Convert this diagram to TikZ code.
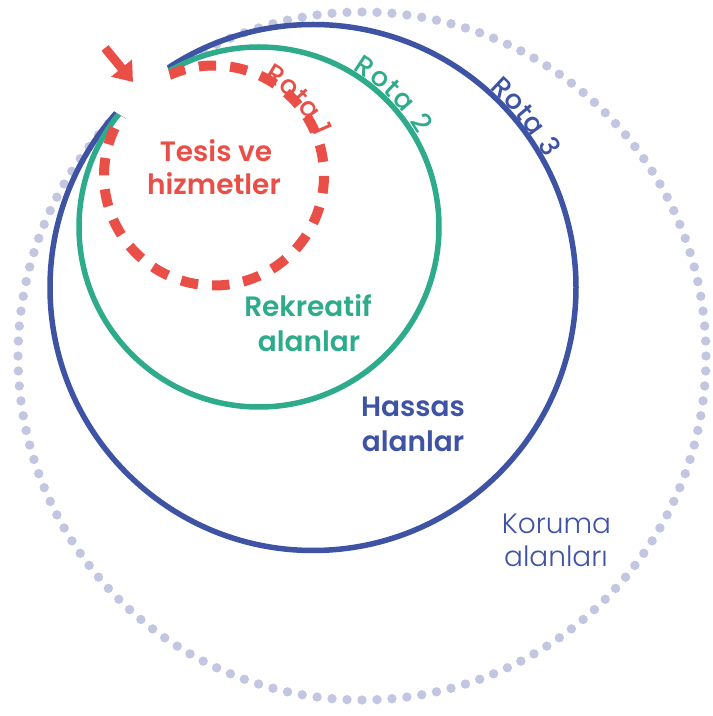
\documentclass[tikz,border=0pt]{standalone}
\usepackage{fontspec}
\setmainfont{Poppins}
\newfontfamily\medfont{Poppins Medium}
\newfontfamily\semifont{Poppins SemiBold}
\newfontfamily\lightfont{Poppins Light}
\usetikzlibrary{arrows.meta}

\definecolor{tesisred}{HTML}{E94F47}
\definecolor{rekgreen}{HTML}{2DAB8B}
\definecolor{hasblue}{HTML}{3E53A4}
\definecolor{korudot}{HTML}{C3C6E0}

% Letters set one by one along a circle, clockwise from a start angle.
% #1 centre, #2 baseline radius, #3 start angle, #4 extra tracking, #5 letters
\newcommand\arclabel[5]{%
  \xdef\arcpos{#3}%
  \foreach \ch [count=\ci] in {#5}{%
    \pgfmathsetmacro\chwd{width("\ch")+#4}%
    \pgfmathsetmacro\chspan{\chwd/#2*180/pi}%
    \pgfmathsetmacro\chmid{\arcpos-\chspan/2}%
    \node[rotate=\chmid-90,anchor=base,inner sep=0pt] (#1l\ci)
      at ([shift={(\chmid:#2)}]#1) {\ch};%
    \pgfmathsetmacro\chnext{\arcpos-\chspan}%
    \xdef\arcpos{\chnext}%
  }%
}

\begin{document}
\begin{tikzpicture}[x=1pt,y=1pt,
  ring/.style={line width=5.5pt},
  routefont/.code={\medfont\fontsize{27}{30}\selectfont},
  zonetext/.style={anchor=base,inner sep=0pt,font=\semifont\fontsize{28}{33}\selectfont},
  thintext/.style={anchor=base,inner sep=0pt,font=\lightfont\fontsize{28}{33}\selectfont},
]
\useasboundingbox (0,0) rectangle (713,716);

\coordinate (cdot)   at (362,360);
\coordinate (cblue)  at (313,428.5);
\coordinate (cgreen) at (259,489);
\coordinate (cred)   at (214,540.5);

% protection zone: a ring of dots
\foreach \k in {0,...,143}
  \fill[korudot] ([shift={(\k*2.5:344)}]cdot) circle (4.7);

% sensitive, recreational and service zones
\draw[ring,hasblue] (cblue) circle (263);
\draw[ring,rekgreen] (cgreen) circle (180);
\draw[tesisred,line width=10pt,dash pattern=on 17.4pt off 14pt]
  ([shift={(114.3:110)}]cred) arc[start angle=114.3,delta angle=-360,radius=110];

% route names along the rings
\begin{scope}[tesisred,routefont]
  \arclabel{cred}{108}{63}{0}{R,o,t,a,~,1}
\end{scope}
\begin{scope}[rekgreen,routefont]
  \arclabel{cgreen}{183.5}{59.5}{1.5}{R,o,t,a,~,2}
\end{scope}
\begin{scope}[hasblue,routefont]
  \arclabel{cblue}{266}{48.5}{0.8}{R,o,t,a,~,3}
\end{scope}

% entrance opening where the routes start
\fill[white] (157,687) -- (178,610) -- (149.5,583.5) -- (79,626) -- (100,687) -- cycle;
\coordinate (atail) at (105,668);
\coordinate (atip)  at (133,634);
\draw[tesisred,line width=9pt,-{Triangle[length=18pt,width=26pt]}] (atail) -- (atip);

% zone names
\node[zonetext,text=tesisred] (tesis1) at (216,554) {Tesis ve};
\node[zonetext,text=tesisred] (tesis2) at (214,521) {hizmetler};
\node[zonetext,text=rekgreen] (rek1) at (308,399) {Rekreatif};
\node[zonetext,text=rekgreen] (rek2) at (309,364) {alanlar};
\node[zonetext,text=hasblue] (has1) at (413,299) {Hassas};
\node[zonetext,text=hasblue] (has2) at (413,264) {alanlar};
\node[thintext,text=hasblue] (koru1) at (556.5,182) {Koruma};
\node[thintext,text=hasblue] (koru2) at (556,149) {alanları};
\end{tikzpicture}
\end{document}
